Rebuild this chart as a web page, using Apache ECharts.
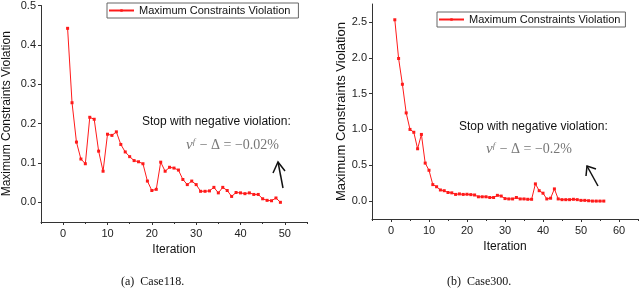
<!DOCTYPE html>
<html><head><meta charset="utf-8">
<script src="https://cdn.jsdelivr.net/npm/echarts@6/dist/echarts.min.js"></script>
<style>html,body{margin:0;padding:0;background:#fff}#c{width:640px;height:288px}</style>
</head><body><div id="c"></div>
<script>
// Case118 data
const itersA = [1,2,3,4,5,6,7,8,9,10,11,12,13,14,15,16,17,18,19,20,21,22,23,24,25,26,27,28,29,30,31,32,33,34,35,36,37,38,39,40,41,42,43,44,45,46,47,48,49];
const valuesA = [0.442,0.253,0.153,0.110,0.098,0.216,0.211,0.130,0.079,0.173,0.170,0.179,0.147,0.128,0.116,0.106,0.103,0.098,0.054,0.030,0.033,0.102,0.079,0.089,0.087,0.082,0.058,0.045,0.054,0.045,0.028,0.028,0.029,0.038,0.024,0.038,0.030,0.015,0.025,0.024,0.022,0.024,0.020,0.020,0.009,0.005,0.004,0.011,0.000];
// Case300 data
const itersB = [1,2,3,4,5,6,7,8,9,10,11,12,13,14,15,16,17,18,19,20,21,22,23,24,25,26,27,28,29,30,31,32,33,34,35,36,37,38,39,40,41,42,43,44,45,46,47,48,49,50,51,52,53,54,55,56];
const valuesB = [2.53,1.99,1.63,1.23,1.00,0.96,0.73,0.93,0.53,0.43,0.23,0.20,0.155,0.145,0.12,0.115,0.093,0.10,0.093,0.095,0.09,0.085,0.06,0.06,0.06,0.05,0.05,0.08,0.07,0.035,0.03,0.03,0.05,0.03,0.03,0.025,0.025,0.24,0.145,0.11,0.03,0.04,0.17,0.03,0.02,0.02,0.02,0.025,0.02,0.01,0.01,0.005,0.0,0.0,0.0,0.0];
// Tick labels
const xTicksA = [0,10,20,30,40,50];
const xMinorA = [-5,5,15,25,35,45,55];
const yTicksA = [0,0.1,0.2,0.3,0.4,0.5];
const xTicksB = [0,10,20,30,40,50,60];
const xMinorB = [-5,5,15,25,35,45,55,65];
const yTicksB = [0,0.5,1.0,1.5,2.0,2.5];
const seriesName = 'Maximum Constraints Violation';

const font = 'Liberation Sans, Arial, sans-serif';
const serif = 'Liberation Serif, Times New Roman, serif';
const axisCol = '#333';

function xAxisMain(grid, min, max, ticks){
  return {type:'value', gridIndex:grid, min:min, max:max, name:'Iteration', nameLocation:'middle', nameGap:21,
    nameTextStyle:{fontFamily:font, fontSize:12, color:'#111'},
    axisLine:{onZero:false, lineStyle:{color:axisCol, width:1}},
    axisTick:{customValues:ticks, length:3, lineStyle:{color:axisCol}},
    axisLabel:{customValues:ticks, fontFamily:font, fontSize:11, color:'#222', margin:6},
    splitLine:{show:false}};
}
function xAxisMinor(grid, min, max, ticks){
  return {type:'value', gridIndex:grid, min:min, max:max, position:'bottom',
    axisLine:{show:false, onZero:false},
    axisTick:{customValues:ticks, length:2, lineStyle:{color:axisCol}},
    axisLabel:{show:false}, splitLine:{show:false}};
}
function yAxisMain(grid, min, max, ticks, nameSize, gap){
  return {type:'value', gridIndex:grid, min:min, max:max, name:seriesName, nameLocation:'middle', nameGap:gap,
    nameTextStyle:{fontFamily:font, fontSize:nameSize, color:'#111'},
    axisLine:{show:true, onZero:false, lineStyle:{color:axisCol, width:1}},
    axisTick:{show:true, customValues:ticks, length:3, lineStyle:{color:axisCol}},
    axisLabel:{customValues:ticks, fontFamily:font, fontSize:11, color:'#222', margin:5,
      formatter:function(v){return Number(v).toFixed(1);}},
    splitLine:{show:false}};
}
function formula(left, top, txt){
  return {type:'text', left:left, top:top, style:{
    text:'{v|ν}{s|f}{t| − Δ = ' + txt + '}',
    rich:{v:{fontFamily:serif, fontSize:15, fill:'#777', fontStyle:'italic'},
          s:{fontFamily:serif, fontSize:9, fill:'#777', fontStyle:'italic', padding:[0,1,8,0]},
          t:{fontFamily:serif, fontSize:14, fill:'#777'}}}};
}

const option = {
  animation:false,
  grid:[
    {left:39, top:4, width:268, height:218},
    {left:372, top:4, width:266, height:215}
  ],
  xAxis:[
    xAxisMain(0,-5,55,xTicksA), xAxisMinor(0,-5,55,xMinorA),
    xAxisMain(1,-5,65,xTicksB), xAxisMinor(1,-5,65,xMinorB)
  ],
  yAxis:[
    yAxisMain(0,-0.05,0.5,yTicksA,12,28),
    yAxisMain(1,-0.25,2.75,yTicksB,13,24)
  ],
  legend:[
    {data:[seriesName], left:107, top:3, orient:'horizontal', itemWidth:25, itemHeight:3, itemGap:0,
      padding:[2,8,2,1], borderColor:'#666', borderWidth:1,
      textStyle:{fontFamily:font, fontSize:11, color:'#111'}},
    {data:[seriesName], left:437, top:12, orient:'horizontal', itemWidth:25, itemHeight:3, itemGap:0,
      padding:[2,5,2,1], borderColor:'#666', borderWidth:1,
      textStyle:{fontFamily:font, fontSize:11, color:'#111'}}
  ],
  series:[
    {name:seriesName, type:'line', xAxisIndex:0, yAxisIndex:0,
      data:itersA.map((x,i)=>[x,valuesA[i]]),
      symbol:'rect', symbolSize:3, showAllSymbol:true,
      itemStyle:{color:'#ff1a1a'}, lineStyle:{color:'#ff1a1a', width:1}},
    {name:seriesName, type:'line', xAxisIndex:2, yAxisIndex:1,
      data:itersB.map((x,i)=>[x,valuesB[i]]),
      symbol:'rect', symbolSize:3, showAllSymbol:true,
      itemStyle:{color:'#ff1a1a'}, lineStyle:{color:'#ff1a1a', width:1}}
  ],
  graphic:[
    {type:'text', left:142, top:116, style:{text:'Stop with negative violation:', font:'12px '+font, fill:'#111'}},
    formula(186, 137, '−0.02%'),
    {type:'polyline', shape:{points:[[283,188],[278,162]]}, style:{stroke:'#111', lineWidth:1.5, fill:null}},
    {type:'polyline', shape:{points:[[273,173],[278,162],[285,171]]}, style:{stroke:'#111', lineWidth:1.5, fill:null}},
    {type:'text', left:459, top:121, style:{text:'Stop with negative violation:', font:'12px '+font, fill:'#111'}},
    formula(486, 141, '−0.2%'),
    {type:'polyline', shape:{points:[[598,186],[587,166]]}, style:{stroke:'#111', lineWidth:1.5, fill:null}},
    {type:'polyline', shape:{points:[[586,176],[587,166],[596,169]]}, style:{stroke:'#111', lineWidth:1.5, fill:null}},
    {type:'text', left:121, top:276, style:{text:'(a)  Case118.', font:'12px '+serif, fill:'#111'}},
    {type:'text', left:447, top:276, style:{text:'(b)  Case300.', font:'12px '+serif, fill:'#111'}}
  ]
};
const chart = echarts.init(document.getElementById('c'), null, {renderer:'canvas'});
chart.setOption(option);
</script></body></html>
